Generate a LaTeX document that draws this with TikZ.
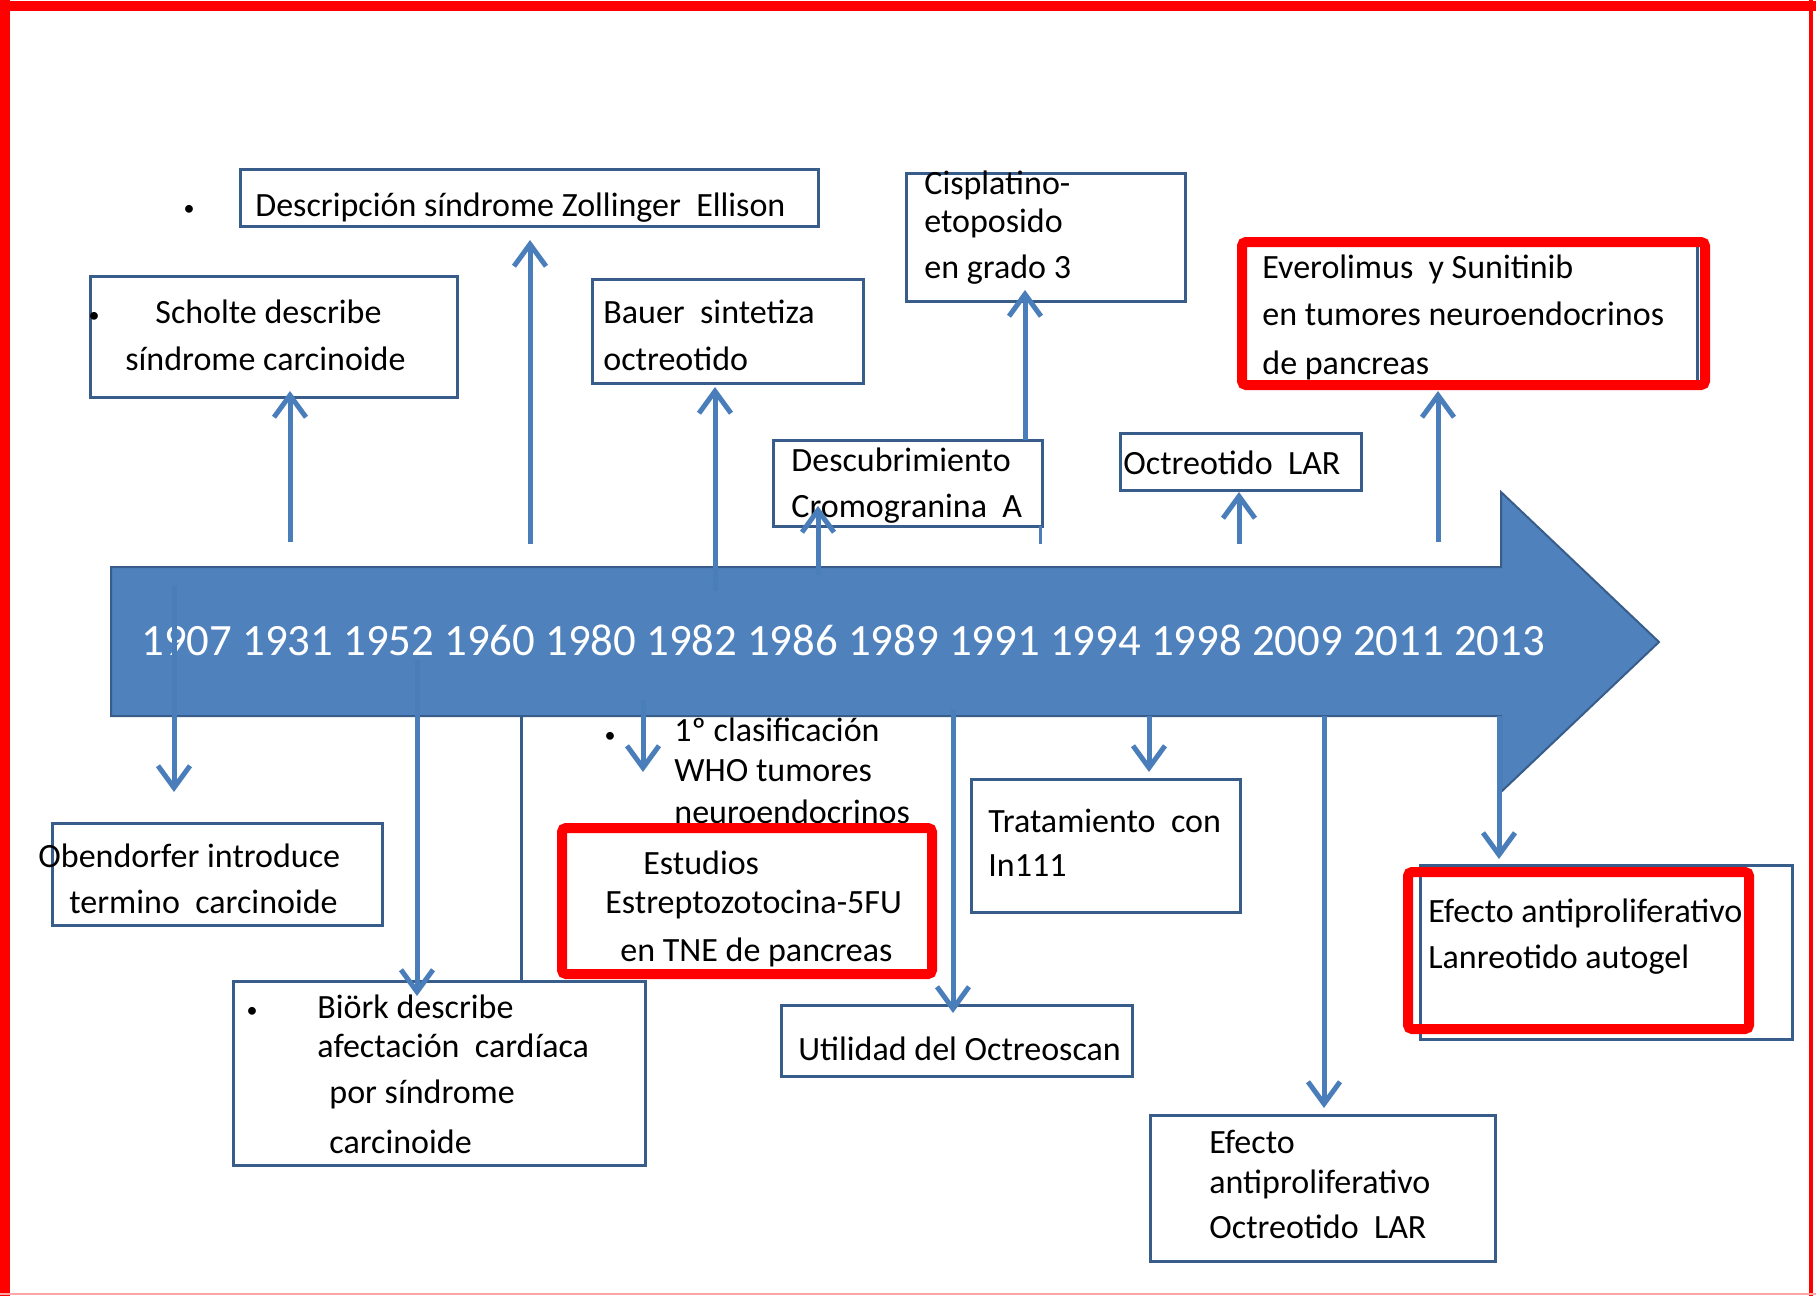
\documentclass[tikz,border=0pt]{standalone}
\usepackage{fontspec}
\setmainfont{Carlito}
\usetikzlibrary{arrows.meta,fit}
\definecolor{tlblue}{HTML}{4F81BD}
\definecolor{tledge}{HTML}{385D8A}
\definecolor{connc}{HTML}{4A7EBB}
\definecolor{frred}{HTML}{FF0000}
\begin{document}
\begin{tikzpicture}[x=0.5pt,y=-0.5pt,
  box/.style={draw=tledge, line width=1.5pt, inner sep=0pt, fill=white},
  redbox/.style={draw=frred, line width=5pt, inner sep=0pt, rounded corners=2pt},
  txt/.style={anchor=west, inner sep=0pt, yshift=-2.8pt, text height=0.7em, text depth=0.2em, font=\fontsize{17}{20}\selectfont},
  bul/.style={anchor=center, inner sep=0pt, yshift=-2pt, font=\fontsize{11}{13}\selectfont},
  conn/.style={draw=connc, line width=2.5pt, -{Straight Barb[length=11pt,width=16pt]}},
  thinline/.style={draw=tledge, line width=1.5pt},
]
\useasboundingbox (0,0) rectangle (1816,1296);
% outer red frame
\draw[frred, line width=5pt] (5,0) -- (5,1296);
\draw[frred, line width=5pt] (0,6) -- (1816,6);
\draw[frred, line width=2pt] (1811,0) -- (1811,1296);
\draw[frred!35, line width=1pt] (0,1294) -- (1816,1294);

% timeline arrow
\draw[fill=tlblue, draw=tledge, line width=1pt]
  (111,567) -- (1501,567) -- (1501,492) -- (1659,642) -- (1501,792) -- (1501,716) -- (111,716) -- cycle;
\node[anchor=west, inner sep=0pt, text=white, font=\fontsize{22.4}{26}\selectfont] (years) at (141,640)
  {1907 1931 1952 1960 1980 1982 1986 1989 1991 1994 1998 2009 2011 2013};

% boxes
\node[box, fit={(240,169)(818,226)}] (desc) {};
\node[box, fit={(90,276)(457,397)}] (sch) {};
\node[box, fit={(592,279)(863,383)}] (bau) {};
\node[box, fit={(906,173)(1185,301)}] (cis) {};
\node[box, fit={(773,440)(1042,526)}] (cro) {};
\node[box, fit={(1120,433)(1361,490)}] (lar) {};
\node[box, fit={(1242,242)(1697,381)}] (evb) {};
\node[redbox, fit={(1242,242)(1705,385)}] (evr) {};
\node[box, fit={(52,823)(382,925)}] (obe) {};
\node[box, fit={(233,981)(645,1165)}] (bio) {};
\node[box, fit={(781,1005)(1132,1076)}] (oct) {};
\node[box, fit={(971,779)(1240,912)}] (tra) {};
\node[box, fit={(1150,1115)(1495,1261)}] (efo) {};
\node[box, fit={(1420,865)(1792,1039)}] (lanb) {};
\node[redbox, fit={(1408,872)(1749,1029)}] (lanr) {};

% texts
\node[bul] (bdesc) at (189,206) {•};
\node[txt] (tdesc) at (255,206) {Descripción síndrome Zollinger\ \ Ellison};
\node[bul] (bsch) at (94,313) {•};
\node[txt] (tsch1) at (155,313) {Scholte describe};
\node[txt] (tsch2) at (125,360) {síndrome carcinoide};
\node[txt] (tbau1) at (603,313) {Bauer\ \ sintetiza};
\node[txt] (tbau2) at (603,360) {octreotido};
\node[txt] (tcis1) at (924,184) {Cisplatino-};
\node[txt] (tcis2) at (924,222) {etoposido};
\node[txt] (tcis3) at (924,268) {en grado 3};
\node[txt] (tcro1) at (791,461) {Descubrimiento};
\node[txt] (tcro2) at (791,507) {Cromogranina\ \ A};
\node[txt] (tlar) at (1123,464) {Octreotido\ \ LAR};
\node[txt] (tev1) at (1262,268) {Everolimus\ \ y Sunitinib};
\node[txt] (tev2) at (1262,315) {en tumores neuroendocrinos};
\node[txt] (tev3) at (1262,364) {de pancreas};
\node[txt] (tobe1) at (38,857) {Obendorfer introduce};
\node[txt] (tobe2) at (69,903) {termino\ \ carcinoide};
\node[bul] (bbio) at (252,1008) {•};
\node[txt] (tbio1) at (317,1008) {Biörk describe};
\node[txt] (tbio2) at (317,1047) {afectación\ \ cardíaca};
\node[txt] (tbio3) at (329,1093) {por síndrome};
\node[txt] (tbio4) at (329,1143) {carcinoide};
\node[bul] (bwho) at (610,733) {•};
\node[txt] (twho1) at (674,731) {1º clasificación};
\node[txt] (twho2) at (674,771) {WHO tumores};
\node[txt] (twho3) at (674,813) {neuroendocrinos};
\node[redbox, fill=white, fit={(562,828)(932,974)}] (est) {};
\node[txt] (test1) at (643,864) {Estudios};
\node[txt] (test2) at (605,903) {Estreptozotocina-5FU};
\node[txt] (test3) at (620,951) {en TNE de pancreas};
\node[txt] (toct) at (798,1050) {Utilidad del Octreoscan};
\node[txt] (ttra1) at (988,822) {Tratamiento\ \ con};
\node[txt] (ttra2) at (988,866) {In111};
\node[txt] (tefo1) at (1209,1143) {Efecto};
\node[txt] (tefo2) at (1209,1183) {antiproliferativo};
\node[txt] (tefo3) at (1209,1228) {Octreotido\ \ LAR};
\node[txt] (tlan1) at (1428,912) {Efecto antiproliferativo};
\node[txt] (tlan2) at (1428,958) {Lanreotido autogel};

% connector end points
\coordinate (a1s) at (290,542);  \coordinate (a1e) at (290,391);
\coordinate (a2s) at (530,544);  \coordinate (a2e) at (530,240);
\coordinate (a3s) at (715,591);  \coordinate (a3e) at (715,387);
\coordinate (a4s) at (818,575);  \coordinate (a4e) at (818,506);
\coordinate (a5s) at (1025,440); \coordinate (a5e) at (1025,290);
\coordinate (sts) at (1040,526); \coordinate (ste) at (1040,544);
\coordinate (a6s) at (1239,544); \coordinate (a6e) at (1239,492);
\coordinate (a7s) at (1438,542); \coordinate (a7e) at (1438,391);
\coordinate (d1s) at (174,585);  \coordinate (d1e) at (174,792);
\coordinate (d2s) at (417,660);  \coordinate (d2e) at (417,996);
\coordinate (tls) at (521,716);  \coordinate (tle) at (521,981);
\coordinate (d3s) at (643,700);  \coordinate (d3e) at (643,772);
\coordinate (d4s) at (953,709);  \coordinate (d4e) at (953,1013);
\coordinate (d5s) at (1149,716); \coordinate (d5e) at (1149,772);
\coordinate (d6s) at (1324,716); \coordinate (d6e) at (1324,1108);
\coordinate (d7s) at (1499,716); \coordinate (d7e) at (1499,859);

% connectors
\draw[conn] (a1s) -- (a1e);
\draw[conn] (a2s) -- (a2e);
\draw[conn] (a3s) -- (a3e);
\draw[conn] (a4s) -- (a4e);
\draw[conn] (a5s) -- (a5e);
\draw[connc, line width=1.5pt] (sts) -- (ste);
\draw[conn] (a6s) -- (a6e);
\draw[conn] (a7s) -- (a7e);
\draw[conn] (d1s) -- (d1e);
\draw[conn] (d2s) -- (d2e);
\draw[thinline] (tls) -- (tle);
\draw[conn] (d3s) -- (d3e);
\draw[conn] (d4s) -- (d4e);
\draw[conn] (d5s) -- (d5e);
\draw[conn] (d6s) -- (d6e);
\draw[conn] (d7s) -- (d7e);
\end{tikzpicture}
\end{document}
